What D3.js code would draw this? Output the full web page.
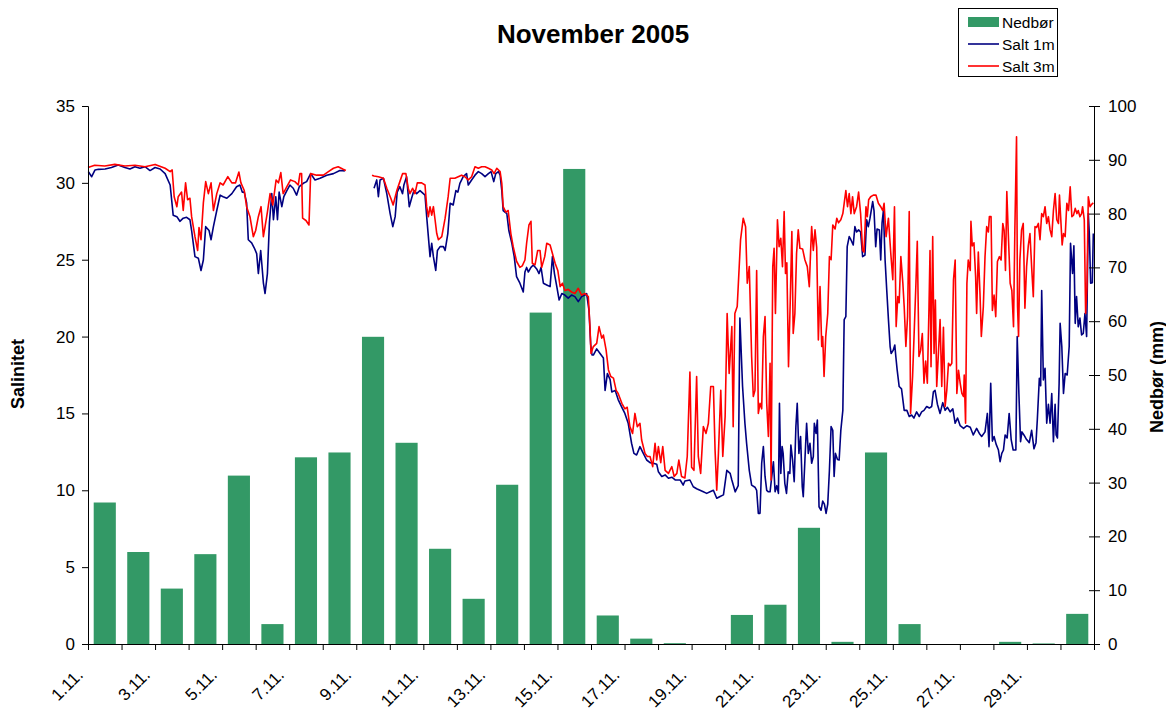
<!DOCTYPE html>
<html>
<head>
<meta charset="utf-8">
<script src="https://cdn.jsdelivr.net/npm/d3@7"></script>
<style>
  html, body { margin: 0; padding: 0; background: #fff; }
  svg { display: block; font-family: "Liberation Sans", Arial, sans-serif; }
</style>
</head>
<body>
<svg id="chart" width="1166" height="712"></svg>
<script>
// Daily precipitation (mm), 1.–30. November
const precipitation = [26.3, 17.1, 10.3, 16.7, 31.3, 3.7, 34.7, 35.6, 57.1, 37.4,
                       17.7, 8.4, 29.6, 61.6, 88.3, 5.3, 1.0, 0.15, 0, 5.4,
                       7.3, 21.6, 0.4, 35.6, 3.7, 0, 0, 0.4, 0.1, 5.6];

// Category tick labels (every second day)
const dayLabels = ["1.11.", "3.11.", "5.11.", "7.11.", "9.11.", "11.11.", "13.11.", "15.11.",
                   "17.11.", "19.11.", "21.11.", "23.11.", "25.11.", "27.11.", "29.11."];

const saltTicks = [0, 5, 10, 15, 20, 25, 30, 35];
const rainTicks = [0, 10, 20, 30, 40, 50, 60, 70, 80, 90, 100];

// Salinity at 1 m: [days since 1.11. 00:00, salinity]; null = no data
const salt1m = [
  [0.01,30.73],[0.11,30.4],[0.21,30.84],[0.31,30.88],[0.51,30.9],[0.7,31.0],[0.9,31.16],[1.1,31.0],
  [1.25,30.9],[1.4,31.05],[1.55,30.95],[1.7,31.05],[1.85,30.8],[2.0,31.0],[2.15,30.9],[2.3,30.6],
  [2.45,29.86],[2.54,27.9],[2.65,27.8],[2.74,27.5],[2.84,27.7],[2.94,27.76],[3.04,27.6],[3.09,26.9],
  [3.19,25.2],[3.29,25.1],[3.37,24.3],[3.44,24.98],[3.51,27.15],[3.61,26.9],[3.67,26.3],[3.74,27.15],
  [3.84,28.2],[3.94,29.2],[4.03,29.1],[4.14,29.0],[4.29,29.3],[4.43,29.75],[4.53,29.86],[4.6,29.4],
  [4.66,29.4],[4.73,28.7],[4.78,26.3],[4.88,26.1],[4.96,25.76],[5.03,25.4],[5.08,24.1],[5.15,25.6],
  [5.23,23.5],[5.28,22.8],[5.35,24.1],[5.41,27.4],[5.48,29.3],[5.53,27.6],[5.6,29.1],[5.65,27.6],
  [5.7,29.4],[5.78,28.45],[5.84,29.1],[5.93,29.5],[6.02,29.86],[6.12,29.65],[6.22,29.2],[6.3,29.75],
  [6.42,29.97],[6.52,30.08],[6.64,30.6],[6.77,30.19],[6.92,30.3],[7.12,30.5],[7.32,30.6],[7.51,30.8],
  [7.66,30.78],[8.1,null],
  [8.53,29.65],[8.61,30.19],[8.66,29.1],[8.71,30.19],[8.81,30.3],[8.91,29.3],[9.01,28.0],[9.09,27.15],
  [9.16,27.8],[9.22,29.4],[9.3,29.75],[9.38,29.3],[9.42,29.86],[9.5,30.4],[9.58,28.45],[9.65,29.0],
  [9.72,29.5],[9.8,29.3],[9.9,29.5],[10.0,29.3],[10.05,29.2],[10.1,27.8],[10.15,26.5],[10.2,25.2],
  [10.25,26.07],[10.3,25.2],[10.37,24.3],[10.42,25.6],[10.5,25.85],[10.6,25.85],[10.65,25.6],[10.73,26.7],
  [10.8,28.67],[10.89,28.56],[10.97,29.5],[11.03,29.4],[11.09,29.97],[11.19,30.4],[11.29,30.6],[11.34,29.86],
  [11.44,30.19],[11.54,30.5],[11.64,30.73],[11.74,30.6],[11.84,30.4],[11.94,30.6],[12.02,30.73],[12.1,30.08],
  [12.16,30.6],[12.24,30.73],[12.29,30.5],[12.34,29.5],[12.38,28.2],[12.49,28.0],[12.55,26.9],[12.64,26.07],
  [12.71,25.2],[12.78,23.9],[12.88,23.47],[12.98,22.9],[13.03,24.2],[13.08,24.5],[13.13,24.2],[13.21,24.5],
  [13.28,24.66],[13.38,24.4],[13.45,24.1],[13.51,24.5],[13.58,23.47],[13.68,23.36],[13.78,23.25],[13.85,25.2],
  [13.91,24.1],[13.98,23.25],[14.05,22.38],[14.13,22.8],[14.22,22.7],[14.32,22.5],[14.42,22.7],[14.52,22.6],
  [14.62,22.27],[14.72,22.6],[14.82,22.7],[14.87,22.8],[14.94,21.7],[14.99,19.5],[15.03,18.8],[15.07,18.8],
  [15.17,19.2],[15.27,18.9],[15.37,18.6],[15.42,16.5],[15.49,17.6],[15.57,17.2],[15.62,16.4],[15.72,16.5],
  [15.81,15.9],[15.92,15.4],[16.01,15.0],[16.11,14.36],[16.21,13.06],[16.28,12.4],[16.36,12.3],[16.46,12.84],
  [16.56,12.4],[16.66,11.97],[16.76,11.8],[16.86,11.76],[16.96,11.7],[17.01,11.2],[17.11,10.9],[17.21,11.0],
  [17.31,10.78],[17.41,10.85],[17.51,10.67],[17.66,10.67],[17.75,10.34],[17.8,10.6],[17.95,10.67],[18.05,10.23],
  [18.15,10.1],[18.25,10.0],[18.35,9.9],[18.45,9.8],[18.55,9.9],[18.65,10.0],[18.75,9.48],[18.85,9.6],
  [18.95,9.7],[19.05,11.3],[19.15,11.1],[19.2,10.67],[19.3,9.9],[19.39,10.3],[19.44,21.2],[19.52,16.75],
  [19.59,14.36],[19.64,13.06],[19.72,11.3],[19.79,10.34],[19.89,10.2],[19.94,10.0],[19.99,8.5],[20.04,8.5],
  [20.09,11.76],[20.14,12.84],[20.19,10.9],[20.24,10.0],[20.29,9.9],[20.34,9.9],[20.44,11.86],[20.49,9.9],
  [20.54,10.3],[20.59,9.8],[20.62,15.66],[20.66,11.1],[20.7,12.84],[20.73,12.4],[20.78,10.45],[20.83,9.8],
  [20.88,11.2],[20.93,11.1],[20.96,12.95],[21.01,12.0],[21.06,10.56],[21.11,14.14],[21.15,15.66],[21.2,12.4],
  [21.25,13.5],[21.3,10.23],[21.33,9.58],[21.38,12.0],[21.43,14.36],[21.48,12.4],[21.53,13.06],[21.58,11.76],
  [21.63,12.2],[21.66,14.36],[21.71,13.7],[21.75,14.57],[21.8,8.93],[21.86,8.7],[21.91,9.3],[21.96,9.1],
  [22.01,8.5],[22.06,9.1],[22.11,11.3],[22.16,14.14],[22.21,13.9],[22.25,10.9],[22.29,12.4],[22.35,12.0],
  [22.4,11.97],[22.45,13.9],[22.51,15.2],[22.55,21.1],[22.6,21.3],[22.64,25.85],[22.7,26.5],[22.75,26.3],
  [22.82,25.96],[22.87,27.15],[22.92,26.8],[22.98,26.94],[23.04,26.8],[23.1,25.2],[23.17,25.3],[23.22,27.6],
  [23.27,27.15],[23.32,27.7],[23.4,28.78],[23.44,28.2],[23.49,25.85],[23.53,27.0],[23.6,26.94],[23.64,24.98],
  [23.68,27.4],[23.72,28.2],[23.77,24.98],[23.82,23.0],[23.87,21.1],[23.92,19.35],[23.95,18.9],[24.01,19.1],
  [24.06,19.45],[24.09,18.7],[24.13,17.83],[24.19,16.75],[24.26,16.6],[24.34,15.2],[24.42,15.2],[24.49,14.8],
  [24.56,14.9],[24.63,14.7],[24.71,15.1],[24.79,14.8],[24.86,15.1],[24.93,15.2],[25.01,15.45],[25.09,15.35],
  [25.16,15.45],[25.21,16.4],[25.26,16.5],[25.33,15.6],[25.41,15.0],[25.49,15.7],[25.56,15.2],[25.63,15.4],
  [25.71,15.1],[25.79,15.3],[25.86,14.36],[25.93,14.7],[26.01,14.2],[26.11,14.03],[26.21,14.2],[26.31,14.1],
  [26.4,13.6],[26.5,14.03],[26.58,13.7],[26.65,13.5],[26.75,13.8],[26.82,15.0],[26.87,12.84],[26.92,16.96],
  [26.97,13.2],[27.02,13.5],[27.08,13.0],[27.15,12.62],[27.2,11.86],[27.25,12.4],[27.3,12.62],[27.35,13.6],
  [27.41,13.4],[27.47,15.0],[27.53,13.3],[27.59,12.62],[27.67,12.62],[27.71,20.0],[27.76,16.3],[27.81,13.16],
  [27.85,13.8],[27.91,13.6],[27.99,13.3],[28.07,13.1],[28.14,13.9],[28.21,12.7],[28.27,13.1],[28.31,14.6],
  [28.37,17.28],[28.41,16.8],[28.44,23.0],[28.49,17.18],[28.54,17.94],[28.59,14.36],[28.64,15.6],[28.69,14.36],
  [28.74,16.3],[28.79,13.16],[28.84,15.6],[28.87,13.6],[28.91,13.4],[28.96,16.96],[28.99,20.86],[29.04,19.35],
  [29.09,16.3],[29.14,17.6],[29.2,17.5],[29.26,19.35],[29.3,26.07],[29.36,24.1],[29.4,25.9],[29.44,20.86],
  [29.48,22.6],[29.53,20.64],[29.58,21.2],[29.63,20.1],[29.68,20.2],[29.73,21.5],[29.78,20.0],[29.83,28.0],
  [29.86,26.7],[29.9,23.47],[29.95,23.5],[29.98,26.7]
];

// Salinity at 3 m: [days since 1.11. 00:00, salinity]; null = no data
const salt3m = [
  [0.0,31.0],[0.2,31.15],[0.5,31.1],[0.8,31.2],[1.1,31.1],[1.4,31.15],[1.7,31.05],[2.0,31.2],[2.3,30.95],
  [2.45,30.73],[2.51,30.84],[2.57,29.1],[2.65,28.45],[2.69,29.1],[2.79,29.4],[2.84,28.2],[2.91,30.0],
  [2.97,28.9],[3.04,29.0],[3.09,27.8],[3.19,26.5],[3.27,25.6],[3.31,27.1],[3.37,26.3],[3.44,28.7],
  [3.51,30.08],[3.59,29.3],[3.67,30.0],[3.74,28.2],[3.84,29.3],[3.94,30.0],[4.03,29.86],[4.17,30.4],
  [4.29,30.0],[4.4,30.0],[4.5,30.7],[4.56,30.0],[4.66,29.5],[4.73,28.45],[4.83,27.8],[4.93,26.5],
  [5.0,26.9],[5.08,27.8],[5.16,28.45],[5.23,26.5],[5.28,27.15],[5.35,28.1],[5.43,29.3],[5.51,28.56],
  [5.61,30.19],[5.68,30.0],[5.75,30.67],[5.82,29.3],[5.93,29.75],[6.04,30.19],[6.17,30.08],[6.27,29.86],
  [6.32,30.6],[6.37,30.6],[6.4,27.7],[6.5,27.55],[6.59,27.26],[6.64,30.6],[6.82,30.5],[7.02,30.5],
  [7.17,30.73],[7.32,30.95],[7.46,31.05],[7.61,30.88],[7.69,30.8],[8.1,null],
  [8.47,30.5],[8.53,30.45],[8.66,30.4],[8.81,30.3],[8.91,29.65],[9.03,29.0],[9.1,28.56],[9.21,29.5],
  [9.3,30.08],[9.38,30.6],[9.48,30.6],[9.55,29.65],[9.6,29.3],[9.68,29.65],[9.75,29.3],[9.82,30.0],
  [9.95,30.0],[10.05,29.86],[10.1,28.45],[10.15,27.8],[10.2,28.45],[10.25,27.9],[10.3,28.45],[10.35,27.6],
  [10.4,26.7],[10.45,26.3],[10.55,26.5],[10.65,27.7],[10.74,29.1],[10.8,30.3],[10.94,30.3],[11.04,30.4],
  [11.14,30.5],[11.24,30.4],[11.34,30.19],[11.44,30.4],[11.54,31.05],[11.64,30.95],[11.74,31.05],[11.84,31.05],
  [11.94,30.95],[12.04,30.84],[12.11,30.6],[12.19,30.95],[12.29,30.73],[12.34,29.97],[12.38,28.45],[12.46,28.1],
  [12.53,28.2],[12.61,26.7],[12.68,25.85],[12.78,24.9],[12.88,24.5],[12.95,24.6],[13.03,24.98],[13.08,26.07],
  [13.15,27.26],[13.21,27.5],[13.25,24.77],[13.33,24.66],[13.41,25.6],[13.48,25.6],[13.53,24.5],[13.62,25.2],
  [13.68,26.07],[13.78,25.96],[13.85,25.4],[13.93,24.77],[14.01,24.3],[14.08,23.25],[14.15,23.47],[14.22,23.0],
  [14.32,23.07],[14.42,22.9],[14.52,22.8],[14.62,23.14],[14.72,22.7],[14.82,22.8],[14.92,22.6],[14.97,20.6],
  [15.0,18.9],[15.07,19.35],[15.17,19.56],[15.24,20.65],[15.32,19.9],[15.37,20.1],[15.45,19.13],[15.52,17.83],
  [15.59,17.4],[15.67,17.3],[15.75,16.5],[15.81,16.3],[15.92,15.66],[16.01,15.3],[16.08,15.4],[16.16,14.14],
  [16.24,13.7],[16.31,15.0],[16.38,14.14],[16.46,14.36],[16.51,13.27],[16.61,12.4],[16.68,12.2],[16.76,12.2],
  [16.84,11.54],[16.91,13.06],[16.96,11.97],[17.01,12.84],[17.08,11.8],[17.14,12.84],[17.21,11.3],[17.31,11.1],
  [17.41,11.54],[17.48,10.9],[17.56,11.1],[17.62,11.97],[17.7,10.9],[17.8,10.8],[17.87,12.2],[17.95,17.7],
  [18.0,11.5],[18.07,11.3],[18.15,17.4],[18.2,12.2],[18.27,11.1],[18.35,14.14],[18.43,13.7],[18.5,14.36],
  [18.57,16.75],[18.65,16.75],[18.7,12.6],[18.75,10.0],[18.8,12.4],[18.87,16.5],[18.93,12.2],[19.0,14.8],
  [19.06,21.5],[19.12,17.6],[19.2,20.65],[19.24,14.14],[19.29,21.5],[19.36,21.95],[19.46,26.3],[19.54,27.7],
  [19.61,27.15],[19.66,23.47],[19.72,24.55],[19.79,18.7],[19.84,16.1],[19.89,16.5],[19.94,24.3],[19.99,15.0],
  [20.04,15.66],[20.09,15.3],[20.14,20.0],[20.19,21.3],[20.24,15.66],[20.29,13.5],[20.34,18.26],[20.37,10.67],
  [20.42,24.55],[20.46,25.74],[20.5,21.5],[20.56,27.6],[20.61,25.85],[20.66,26.4],[20.71,24.55],[20.76,28.13],
  [20.8,24.1],[20.84,24.8],[20.89,18.04],[20.94,22.17],[20.99,26.83],[21.03,20.2],[21.08,21.5],[21.13,25.4],
  [21.18,26.94],[21.23,25.74],[21.31,25.7],[21.38,24.98],[21.45,24.55],[21.51,23.25],[21.55,25.6],[21.58,27.15],
  [21.63,25.6],[21.68,26.94],[21.73,25.8],[21.78,19.78],[21.83,23.25],[21.88,19.35],[21.91,20.0],[21.95,17.4],
  [22.0,20.0],[22.06,21.5],[22.11,25.2],[22.16,25.0],[22.21,27.26],[22.28,27.0],[22.33,27.7],[22.38,27.4],
  [22.45,27.6],[22.51,28.0],[22.55,28.67],[22.6,29.5],[22.65,28.45],[22.7,29.3],[22.75,28.0],[22.8,29.1],
  [22.85,28.0],[22.92,28.45],[22.98,29.4],[23.04,28.0],[23.1,25.6],[23.14,25.5],[23.2,28.45],[23.24,27.8],
  [23.28,28.9],[23.34,29.1],[23.42,29.2],[23.5,29.2],[23.57,28.67],[23.64,28.45],[23.7,28.2],[23.74,28.67],
  [23.8,26.5],[23.87,27.7],[23.94,25.4],[24.0,23.7],[24.05,28.45],[24.1,20.65],[24.15,22.6],[24.19,22.2],
  [24.24,25.2],[24.3,23.47],[24.34,21.95],[24.39,19.35],[24.44,21.3],[24.49,28.13],[24.53,15.0],[24.59,17.4],
  [24.63,19.8],[24.69,23.47],[24.73,26.2],[24.78,18.7],[24.83,19.1],[24.88,20.2],[24.93,16.96],[24.98,18.4],
  [25.03,16.96],[25.08,21.95],[25.11,25.6],[25.14,18.04],[25.19,26.5],[25.23,18.9],[25.27,22.38],[25.31,16.75],
  [25.36,18.9],[25.41,21.1],[25.46,16.75],[25.51,20.6],[25.56,15.45],[25.61,16.5],[25.66,18.26],[25.71,18.1],
  [25.76,18.26],[25.81,23.7],[25.86,24.98],[25.91,16.3],[25.96,17.8],[26.01,16.96],[26.06,16.3],[26.11,16.1],
  [26.13,17.5],[26.17,14.36],[26.21,23.47],[26.25,24.98],[26.31,24.3],[26.33,27.5],[26.37,25.9],[26.42,26.1],
  [26.47,23.9],[26.5,21.5],[26.55,25.5],[26.6,22.8],[26.64,20.0],[26.7,21.95],[26.75,25.2],[26.8,27.15],
  [26.85,26.8],[26.88,27.8],[26.93,27.8],[26.97,21.7],[27.02,22.7],[27.07,21.3],[27.12,24.88],[27.18,25.2],
  [27.23,24.98],[27.28,27.36],[27.32,26.9],[27.36,24.3],[27.4,29.43],[27.44,26.94],[27.5,23.47],[27.55,23.0],
  [27.6,20.64],[27.64,26.94],[27.69,33.0],[27.72,21.95],[27.75,20.0],[27.79,24.98],[27.84,26.94],[27.89,27.36],
  [27.94,21.84],[27.99,24.55],[28.04,25.9],[28.09,26.7],[28.14,24.55],[28.19,22.6],[28.24,27.15],[28.29,27.1],
  [28.34,27.36],[28.39,26.3],[28.44,28.0],[28.49,27.8],[28.54,28.45],[28.59,27.36],[28.64,27.8],[28.69,26.94],
  [28.74,26.5],[28.79,28.2],[28.84,29.3],[28.89,27.6],[28.94,27.36],[28.97,29.2],[29.01,27.6],[29.05,25.96],
  [29.09,26.7],[29.14,26.5],[29.19,28.67],[29.24,28.2],[29.29,29.75],[29.34,27.8],[29.39,27.9],[29.44,28.34],
  [29.49,28.0],[29.53,28.2],[29.58,27.8],[29.63,28.0],[29.66,28.45],[29.71,27.6],[29.75,21.5],[29.79,23.2],
  [29.83,29.1],[29.88,28.45],[29.93,28.6],[29.98,28.7]
];

const colors = { rain: "#339966", salt1m: "#000080", salt3m: "#ff0000" };

const svg = d3.select("#chart");
const margin = { left: 88, right: 1094, top: 106, bottom: 644 };

const x = d3.scaleLinear().domain([0, 30]).range([margin.left, margin.right]);
const xBand = d3.scaleBand().domain(d3.range(30)).range([margin.left, margin.right])
  .paddingInner(0.34).paddingOuter(0.17);
const ySalt = d3.scaleLinear().domain([0, 35]).range([margin.bottom, margin.top]);
const yRain = d3.scaleLinear().domain([0, 100]).range([margin.bottom, margin.top]);

// Precipitation bars
svg.append("g").selectAll("rect").data(precipitation).join("rect")
  .attr("x", (d, i) => xBand(i))
  .attr("width", xBand.bandwidth())
  .attr("y", d => yRain(d))
  .attr("height", d => yRain(0) - yRain(d))
  .attr("fill", colors.rain);

// Salinity lines
const line = d3.line()
  .defined(d => d[1] != null)
  .x(d => x(d[0]))
  .y(d => ySalt(d[1]));

svg.append("path").datum(salt1m).attr("d", line)
  .attr("fill", "none").attr("stroke", colors.salt1m).attr("stroke-width", 1.6)
  .attr("stroke-linejoin", "round");
svg.append("path").datum(salt3m).attr("d", line)
  .attr("fill", "none").attr("stroke", colors.salt3m).attr("stroke-width", 1.6)
  .attr("stroke-linejoin", "round");

// Left axis (salinity)
const leftAxis = svg.append("g").attr("transform", `translate(${margin.left},0)`)
  .call(d3.axisLeft(ySalt).tickValues(saltTicks).tickSize(6).tickPadding(7).tickFormat(d3.format("d")));

// Right axis (precipitation), ticks crossing the axis line
const rightAxis = svg.append("g").attr("transform", `translate(${margin.right},0)`)
  .call(d3.axisRight(yRain).tickValues(rainTicks).tickSize(6).tickPadding(8).tickFormat(d3.format("d")));
rightAxis.selectAll(".tick line").attr("x1", -5);

// Bottom axis: tick at each day boundary, labels every second day
const bottomAxis = svg.append("g").attr("transform", `translate(0,${margin.bottom})`)
  .call(d3.axisBottom(x).tickValues(d3.range(0, 31)).tickSize(6).tickFormat(""));

const labelDays = dayLabels.map((d, i) => i * 2);
svg.append("g").selectAll("text").data(dayLabels).join("text")
  .attr("transform", (d, i) => `translate(${x(labelDays[i]) - 4},${margin.bottom + 32}) rotate(-45)`)
  .attr("text-anchor", "end")
  .attr("font-size", 17)
  .attr("fill", "#000")
  .text(d => d);

[leftAxis, rightAxis, bottomAxis].forEach(g => {
  g.select(".domain").attr("stroke", "#000").attr("stroke-width", 1);
  g.selectAll(".tick line").attr("stroke", "#000");
  g.selectAll(".tick text").attr("font-size", 17).attr("fill", "#000")
    .attr("font-family", "'Liberation Sans', Arial, sans-serif");
});
bottomAxis.select(".domain").attr("d", `M${margin.left},0.5H${margin.right}`);

// Title
svg.append("text").attr("x", 593).attr("y", 43).attr("text-anchor", "middle")
  .attr("font-size", 26).attr("font-weight", "bold").text("November 2005");

// Axis titles
svg.append("text").attr("transform", "translate(24,374) rotate(-90)")
  .attr("text-anchor", "middle").attr("font-size", 18).attr("font-weight", "bold").text("Salinitet");
svg.append("text").attr("transform", "translate(1163,377) rotate(-90)")
  .attr("text-anchor", "middle").attr("font-size", 18).attr("font-weight", "bold").text("Nedbør (mm)");

// Legend
const legend = svg.append("g");
legend.append("rect").attr("x", 958.5).attr("y", 8.5).attr("width", 99).attr("height", 68)
  .attr("fill", "#fff").attr("stroke", "#000");
const legendItems = [
  { name: "Nedbør", type: "bar", color: colors.rain },
  { name: "Salt 1m", type: "line", color: colors.salt1m },
  { name: "Salt 3m", type: "line", color: colors.salt3m }
];
legendItems.forEach((item, i) => {
  const cy = 22 + i * 22;
  if (item.type === "bar") {
    legend.append("rect").attr("x", 968).attr("y", cy - 5).attr("width", 31).attr("height", 10)
      .attr("fill", item.color);
  } else {
    legend.append("line").attr("x1", 968).attr("x2", 999).attr("y1", cy).attr("y2", cy)
      .attr("stroke", item.color).attr("stroke-width", 1.6);
  }
  legend.append("text").attr("x", 1002).attr("y", cy + 6).attr("font-size", 15.5).text(item.name);
});
</script>
</body>
</html>
